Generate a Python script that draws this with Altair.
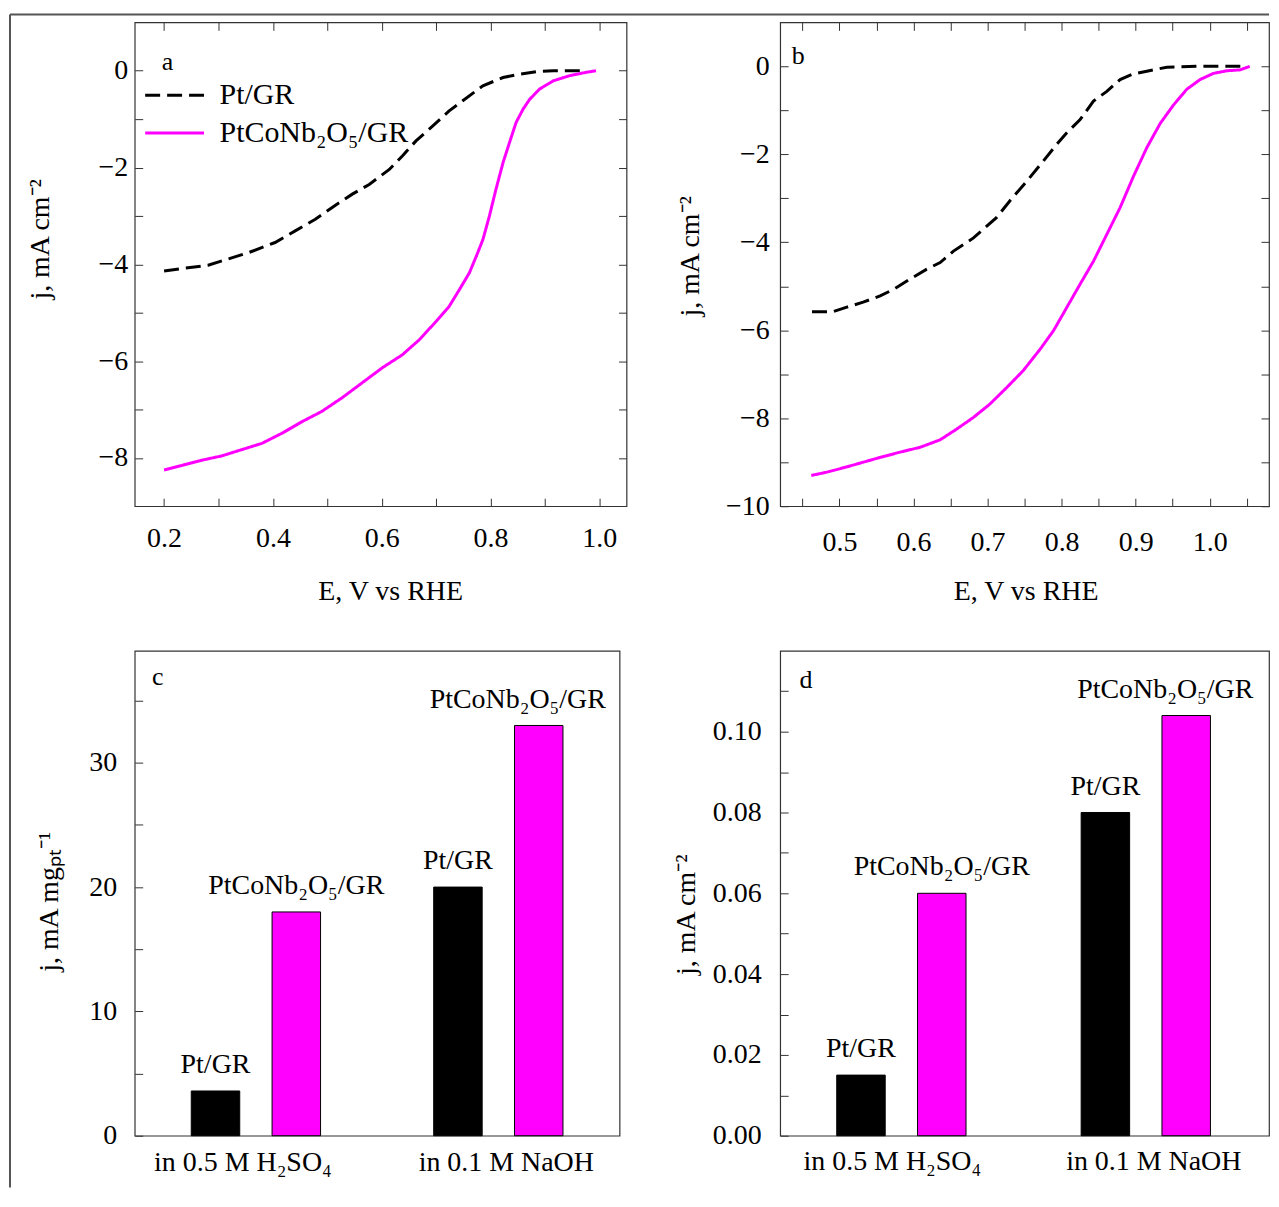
import altair as alt
import pandas as pd

FONT = "Liberation Serif"

catalysts = ["Pt/GR", "PtCoNb₂O₅/GR"]
colors = ["#000000", "#FF00FF"]
dashes = [[15, 7], [1, 0]]

# Panel a (0.5 M H2SO4): LSV curves
a_pt_E = [0.200, 0.232, 0.281, 0.312, 0.355, 0.404, 0.441, 0.478, 0.515, 0.546, 0.577, 0.614,
          0.638, 0.663, 0.694, 0.724, 0.749, 0.786, 0.823, 0.854, 0.884, 0.915, 0.977]
a_pt_j = [-4.14, -4.09, -4.02, -3.91, -3.76, -3.55, -3.31, -3.07, -2.78, -2.55, -2.35, -2.04,
          -1.76, -1.45, -1.14, -0.83, -0.62, -0.31, -0.14, -0.07, -0.02, 0.00, 0.00]
a_co_E = [0.200, 0.232, 0.269, 0.306, 0.343, 0.380, 0.417, 0.454, 0.490, 0.527, 0.564, 0.601,
          0.638, 0.669, 0.700, 0.724, 0.743, 0.761, 0.774, 0.786, 0.798, 0.810, 0.823, 0.835,
          0.847, 0.860, 0.872, 0.890, 0.915, 0.946, 0.977, 0.994]
a_co_j = [-8.25, -8.16, -8.05, -7.96, -7.83, -7.70, -7.49, -7.25, -7.04, -6.76, -6.45, -6.14,
          -5.87, -5.56, -5.18, -4.87, -4.52, -4.18, -3.83, -3.49, -3.00, -2.45, -1.90, -1.48,
          -1.07, -0.79, -0.59, -0.38, -0.21, -0.10, -0.03, 0.00]

# Panel b (0.1 M NaOH): LSV curves
b_pt_E = [0.463, 0.491, 0.509, 0.532, 0.555, 0.573, 0.595, 0.618, 0.636, 0.654, 0.681, 0.712,
          0.730, 0.753, 0.775, 0.793, 0.807, 0.825, 0.843, 0.861, 0.879, 0.897, 0.915, 0.942,
          0.982, 1.050]
b_pt_j = [-5.58, -5.58, -5.48, -5.36, -5.22, -5.07, -4.84, -4.61, -4.46, -4.20, -3.90, -3.44,
          -3.06, -2.61, -2.16, -1.78, -1.51, -1.21, -0.79, -0.57, -0.30, -0.17, -0.11, -0.02,
          0.00, 0.00]
b_co_E = [0.462, 0.482, 0.509, 0.532, 0.555, 0.582, 0.609, 0.636, 0.658, 0.681, 0.703, 0.726,
          0.748, 0.771, 0.789, 0.807, 0.825, 0.843, 0.861, 0.879, 0.897, 0.915, 0.933, 0.951,
          0.969, 0.987, 1.005, 1.023, 1.041, 1.054]
b_co_j = [-9.30, -9.23, -9.11, -9.00, -8.89, -8.77, -8.66, -8.49, -8.25, -7.98, -7.68, -7.30,
          -6.92, -6.43, -6.01, -5.48, -4.95, -4.43, -3.82, -3.21, -2.50, -1.85, -1.30, -0.88,
          -0.52, -0.30, -0.16, -0.10, -0.08, 0.00]

# Panels c, d: activities
conditions = ["in 0.5 M H₂SO₄", "in 0.1 M NaOH"]
mass_pt = [3.6, 20.0]
mass_co = [18.0, 33.0]
spec_pt = [0.015, 0.080]
spec_co = [0.060, 0.104]


def curves(pt_E, pt_j, co_E, co_j):
    return pd.concat([
        pd.DataFrame({"E": pt_E, "j": pt_j, "catalyst": catalysts[0]}),
        pd.DataFrame({"E": co_E, "j": co_j, "catalyst": catalysts[1]}),
    ], ignore_index=True)


def bars_df(pt, co):
    rows = []
    for i, cond in enumerate(conditions):
        rows.append({"condition": cond, "catalyst": catalysts[0], "value": pt[i]})
        rows.append({"condition": cond, "catalyst": catalysts[1], "value": co[i]})
    return pd.DataFrame(rows)


def letter_layer(letter, lx, ly):
    return alt.Chart(alt.Data(values=[{"t": letter}])).mark_text(
        font=FONT, fontSize=26, align="center", baseline="alphabetic", color="black"
    ).encode(x=alt.value(lx), y=alt.value(ly), text="t:N")


TICK = 8


def lsv_panel(df, xdom, ydom, xvals, yvals, xlab, ylab, w, h, letter, lxy,
              ytx, yty, xtx, ylabpad, xlabpad, legend, extra=None):
    leg = None
    if legend:
        leg = alt.Legend(orient="none", legendX=9, legendY=55, title=None,
                         symbolType="stroke", symbolSize=3481, symbolStrokeWidth=3,
                         labelFont=FONT, labelFontSize=30, labelColor="black",
                         labelOffset=14, clipHeight=36, rowPadding=2, padding=0,
                         labelLimit=400)
    xs = alt.Scale(domain=xdom, nice=False, zero=False)
    ys = alt.Scale(domain=ydom, nice=False, zero=False)
    base = alt.Chart(df)
    lines = base.mark_line(strokeWidth=3).encode(
        x=alt.X("E:Q", scale=xs,
                axis=alt.Axis(orient="bottom", values=xvals, format=".1f", labelExpr=xlab,
                              tickSize=TICK, offset=-TICK, labelPadding=xlabpad,
                              title="E, V vs RHE", titleX=xtx, titleY=86 + TICK,
                              titleBaseline="middle", titleAlign="center")),
        y=alt.Y("j:Q", scale=ys,
                axis=alt.Axis(orient="left", values=yvals, format="d", labelExpr=ylab,
                              tickSize=TICK, offset=-TICK, labelPadding=ylabpad,
                              title="j, mA cm⁻²", titleX=ytx, titleY=yty, titleAngle=270,
                              titleBaseline="middle", titleAlign="center")),
        color=alt.Color("catalyst:N", scale=alt.Scale(domain=catalysts, range=colors), legend=leg),
        strokeDash=alt.StrokeDash("catalyst:N", scale=alt.Scale(domain=catalysts, range=dashes), legend=leg),
        order=alt.Order("E:Q"),
    )
    mirror = base.mark_point(opacity=0).encode(
        x=alt.X("E:Q", scale=xs,
                axis=alt.Axis(orient="top", values=xvals, labels=False, tickSize=TICK,
                              offset=-TICK, title=None)),
        y=alt.Y("j:Q", scale=ys,
                axis=alt.Axis(orient="right", values=yvals, labels=False, tickSize=TICK,
                              offset=-TICK, title=None)),
    )
    layers = [lines, mirror, letter_layer(letter, lxy[0], lxy[1])]
    if extra is not None:
        layers += extra
    return alt.layer(*layers).resolve_scale(x="independent", y="independent").properties(
        width=w, height=h)


def bar_panel(df, ydom, yvals, ylab, yfmt, ytitle, w, h, letter, lxy, ytx, yty,
              ylabpad, xlabpad, lab_shift):
    base = alt.Chart(df)
    xenc = alt.X("condition:N", sort=conditions,
                 scale=alt.Scale(paddingInner=0, paddingOuter=0),
                 axis=alt.Axis(orient="bottom", ticks=False, tickSize=0, labelAngle=0,
                               labelPadding=xlabpad, title=None, labelLimit=400,
                               labelOffset={"condition": {"test": f"datum.value === '{conditions[0]}'",
                                                          "value": lab_shift[0]},
                                            "value": lab_shift[1]}))
    xoff = alt.XOffset("catalyst:N", sort=catalysts,
                       scale=alt.Scale(paddingInner=0.4, paddingOuter=0.7))
    yenc = alt.Y("value:Q", scale=alt.Scale(domain=ydom, nice=False, zero=True),
                 axis=alt.Axis(orient="left", values=yvals, format=yfmt, labelExpr=ylab,
                               tickSize=TICK, offset=-TICK, labelPadding=ylabpad,
                               title=ytitle, titleX=ytx, titleY=yty, titleAngle=270,
                               titleBaseline="middle", titleAlign="center"))
    bars = base.mark_bar(stroke="black", strokeWidth=1).encode(
        x=xenc, xOffset=xoff, y=yenc,
        color=alt.Color("catalyst:N", scale=alt.Scale(domain=catalysts, range=colors), legend=None),
    )
    is_last = f"datum.condition === '{conditions[1]}' && datum.catalyst === '{catalysts[1]}'"
    lab_main = base.transform_filter("!(" + is_last + ")").mark_text(
        font=FONT, fontSize=28, baseline="alphabetic", dy=-18, color="black"
    ).encode(x=xenc, xOffset=xoff, y=yenc, text="catalyst:N")
    lab_last = base.transform_filter(is_last).mark_text(
        font=FONT, fontSize=28, baseline="alphabetic", dy=-18, dx=-21, color="black"
    ).encode(x=xenc, xOffset=xoff, y=yenc, text="catalyst:N")
    return alt.layer(bars, lab_main, lab_last, letter_layer(letter, lxy[0], lxy[1])).properties(
        width=w, height=h)


# Outer frame (decoration) drawn from panel a
frame_data = alt.Data(values=[{}])
frame_v = alt.Chart(frame_data).mark_rule(color="#555555", strokeWidth=2).encode(
    x=alt.value(-125), y=alt.value(-8), y2=alt.value(1168))
frame_h = alt.Chart(frame_data).mark_rule(color="#555555", strokeWidth=2).encode(
    x=alt.value(-125), x2=alt.value(1137), y=alt.value(-8))

even1 = "datum.value % 2 === 0 ? datum.label : ''"

ax_vals = [round(0.2 + 0.1 * i, 2) for i in range(9)]
ay_vals = list(range(-8, 1))
bx_vals = [round(0.45 + 0.05 * i, 2) for i in range(13)]
by_vals = list(range(-10, 1))

panel_a = lsv_panel(
    curves(a_pt_E, a_pt_j, a_co_E, a_co_j), [0.146, 1.05], [-9, 1], ax_vals, ay_vals,
    "round(datum.value*10) % 2 === 0 ? datum.label : ''", even1,
    493, 485, "a", (33, 48), -102, 217, 256, 7, 18, True, extra=[frame_v, frame_h])

panel_b = lsv_panel(
    curves(b_pt_E, b_pt_j, b_co_E, b_co_j), [0.42, 1.08], [-10, 1], bx_vals, by_vals,
    "round(datum.value*100) % 10 === 0 ? datum.label : ''", even1,
    490, 485, "b", (18, 42), -98, 234, 246, 11, 22, False)

panel_c = bar_panel(
    bars_df(mass_pt, mass_co), [0, 39], list(range(0, 40, 5)),
    "datum.value % 10 === 0 ? datum.label : ''", "d", "j, mA mgₚₜ⁻¹",
    486, 486, "c", (23, 34), -93, 251, 18, 13, (-13, 8))

panel_d = bar_panel(
    bars_df(spec_pt, spec_co), [0, 0.12], [round(0.01 * i, 2) for i in range(12)],
    "round(datum.value*100) % 2 === 0 ? datum.label : ''", ".2f", "j, mA cm⁻²",
    490, 486, "d", (26, 37), -102, 264, 19, 12, (-10, 7))

chart = alt.concat(
    panel_a, panel_b, panel_c, panel_d, columns=2, spacing={"column": 154, "row": 145},
    bounds="flush"
).resolve_scale(color="independent", strokeDash="independent").properties(
    padding={"left": 0, "top": 3, "right": 0, "bottom": 0}
).configure_view(
    stroke="#333333", strokeWidth=1.2
).configure_axis(
    labelFont=FONT, titleFont=FONT, labelFontSize=28, titleFontSize=28,
    titleFontWeight="normal", labelColor="black", titleColor="black", grid=False,
    domain=False, tickColor="#333333", tickWidth=1, labelFlush=False, labelOverlap=False,
)

chart.save("out.html", embed_options={"renderer": "svg", "actions": False})
